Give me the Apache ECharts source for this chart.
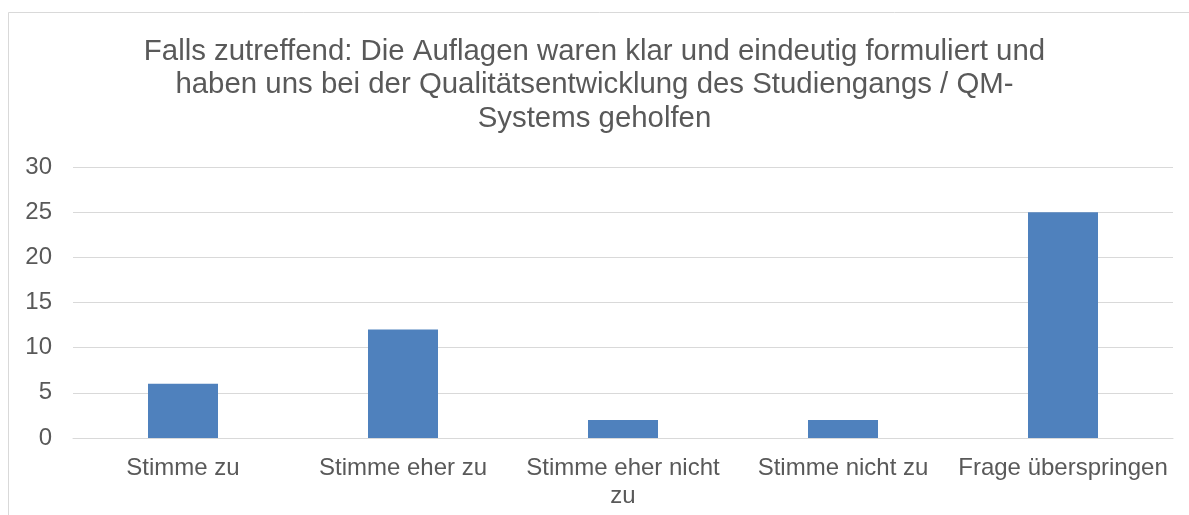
<!DOCTYPE html>
<html>
<head>
    <meta charset="utf-8">
    <title>Auflagen</title>
    <script src="https://cdn.jsdelivr.net/npm/echarts@6/dist/echarts.min.js"></script>
    <style>
        html, body { margin: 0; padding: 0; background: #fff; }
        #chart { width: 1189px; height: 515px; }
    </style>
</head>
<body>
    <div id="chart"></div>
    <script type="text/javascript">
        var categories = ['Stimme zu', 'Stimme eher zu', 'Stimme eher nicht zu', 'Stimme nicht zu', 'Frage überspringen'];
        var values = [6, 12, 2, 2, 25];
        var titleText = 'Falls zutreffend: Die Auflagen waren klar und eindeutig formuliert und\nhaben uns bei der Qualitätsentwicklung des Studiengangs / QM-\nSystems geholfen';

        var chart = echarts.init(document.getElementById('chart'));
        var font = 'Liberation Sans, Arial, sans-serif';

        // zu lange Beschriftungen (wie in Excel) am letzten Leerzeichen umbrechen
        function wrapLabel(val) {
            if (val.length <= 18) return val;
            var i = val.lastIndexOf(' ');
            return val.substr(0, i) + '\n' + val.substr(i + 1);
        }

        var option = {
            animation: false,
            backgroundColor: '#fff',
            graphic: [{
                type: 'rect',
                shape: { x: 8.5, y: 12.5, width: 1200, height: 520 },
                style: { fill: 'none', stroke: '#d9d9d9', lineWidth: 1 }
            }],
            title: {
                text: titleText,
                left: 'center',
                top: 30,
                padding: [5, 0, 5, 22],
                textStyle: {
                    fontFamily: font,
                    fontSize: 29.4,
                    fontWeight: 'normal',
                    color: '#595959',
                    lineHeight: 33.5
                }
            },
            grid: { left: 73, right: 16, top: 167, bottom: 77 },
            xAxis: {
                type: 'category',
                data: categories,
                axisLine: { lineStyle: { color: '#d9d9d9' } },
                axisTick: { show: false },
                axisLabel: {
                    fontFamily: font,
                    fontSize: 24,
                    color: '#595959',
                    margin: 16,
                    lineHeight: 28,
                    interval: 0,
                    formatter: wrapLabel
                }
            },
            yAxis: {
                type: 'value',
                min: 0,
                max: 30,
                interval: 5,
                axisLine: { show: false },
                axisTick: { show: false },
                splitLine: { lineStyle: { color: '#d9d9d9', width: 1 } },
                axisLabel: {
                    fontFamily: font,
                    fontSize: 24,
                    color: '#595959',
                    margin: 21
                }
            },
            series: [{
                type: 'bar',
                data: values,
                barWidth: 70,
                itemStyle: { color: '#4f81bd' }
            }]
        };
        chart.setOption(option);
    </script>
</body>
</html>
